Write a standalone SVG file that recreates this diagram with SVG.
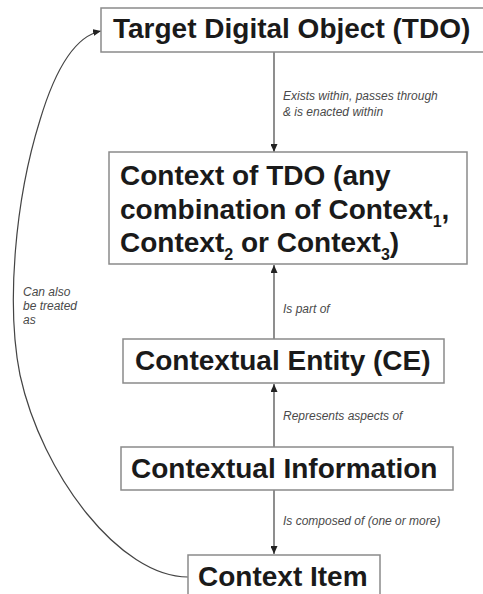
<svg xmlns="http://www.w3.org/2000/svg" width="483" height="594" viewBox="0 0 483 594">
<style>
.box{fill:#fff;stroke:#8a8a8a;stroke-width:1.5}
.t{font-family:"Liberation Sans",Arial,sans-serif;font-weight:bold;font-size:28px;fill:#1a1a1a}
.sub{font-size:16px}
.lbl{font-family:"Liberation Sans",Arial,sans-serif;font-style:italic;font-size:12px;fill:#4a4a4a}
.c{fill:none;stroke:#444;stroke-width:1.2}
</style>
<defs>
<marker id="ah" markerWidth="8" markerHeight="7" refX="8" refY="3.5" orient="auto" markerUnits="userSpaceOnUse">
<path d="M0,0 L8,3.5 L0,7 z" fill="#222"/>
</marker>
</defs>
<rect width="483" height="594" fill="#fff"/>
<g id="connectors">
<line class="c" x1="274" y1="52" x2="274" y2="152" marker-end="url(#ah)"/>
<line class="c" x1="274" y1="339" x2="274" y2="265" marker-end="url(#ah)"/>
<line class="c" x1="274" y1="447" x2="274" y2="384" marker-end="url(#ah)"/>
<line class="c" x1="274" y1="490" x2="274" y2="554" marker-end="url(#ah)"/>
<path class="c" d="M188,577 C120,577 42,475 20,375 C6,305 15,200 40,120 C55,70 75,36 101,31" marker-end="url(#ah)"/>
<text class="lbl" x="283" y="100">Exists within, passes through</text>
<text class="lbl" x="283" y="116">&amp; is enacted within</text>
<text class="lbl" x="283" y="313">Is part of</text>
<text class="lbl" x="283" y="420">Represents aspects of</text>
<text class="lbl" x="283" y="525">Is composed of (one or more)</text>
<text class="lbl" x="23" y="296">Can also</text>
<text class="lbl" x="23" y="310">be treated</text>
<text class="lbl" x="23" y="324">as</text>
</g>
<g id="tdo">
<rect class="box" x="101" y="8" width="390" height="44"/>
<text class="t" x="113" y="38">Target Digital Object (TDO)</text>
</g>
<g id="context">
<rect class="box" x="109" y="152" width="358" height="112"/>
<text class="t" x="120" y="185">Context of TDO (any</text>
<text class="t" x="120" y="219">combination of Context<tspan class="sub" dy="8">1</tspan><tspan dy="-8">,</tspan></text>
<text class="t" x="120" y="252">Context<tspan class="sub" dy="8">2</tspan><tspan dy="-8"> or Context</tspan><tspan class="sub" dy="8">3</tspan><tspan dy="-8">)</tspan></text>
</g>
<g id="ce">
<rect class="box" x="123" y="339" width="321" height="44"/>
<text class="t" x="135" y="370">Contextual Entity (CE)</text>
</g>
<g id="info">
<rect class="box" x="121" y="447" width="332" height="43"/>
<text class="t" x="131" y="478">Contextual Information</text>
</g>
<g id="item">
<rect class="box" x="188" y="555" width="192" height="50"/>
<text class="t" x="198" y="586">Context Item</text>
</g>
</svg>
